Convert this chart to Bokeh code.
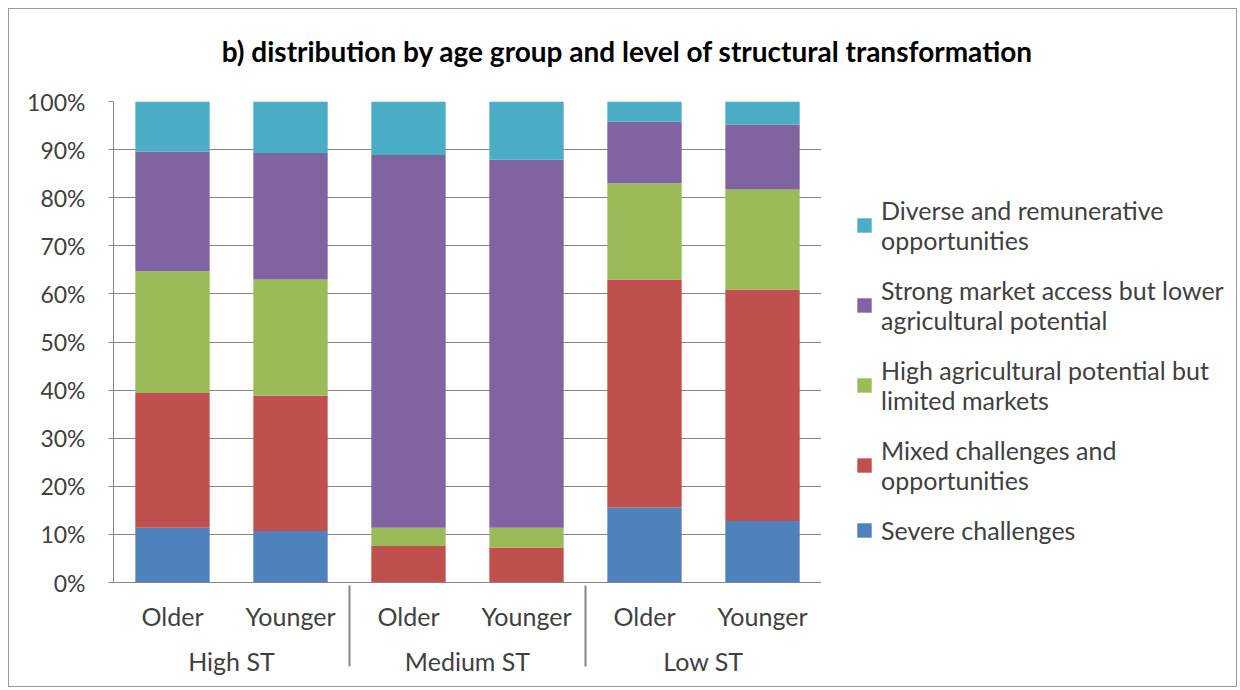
from bokeh.plotting import figure
from bokeh.layouts import column, row
from bokeh.models import (FactorRange, Range1d, Legend, LegendItem, FixedTicker,
                          PrintfTickFormatter, ColumnDataSource, Label)
from bokeh.embed import file_html
from bokeh.resources import INLINE

title_text = "b) distribution by age group and level of structural transformation"
groups = ["High ST", "Medium ST", "Low ST"]
ages = ["Older", "Younger"]

series_names = [
    "Severe challenges",
    "Mixed challenges and\nopportunities",
    "High agricultural potential but\nlimited markets",
    "Strong market access but lower\nagricultural potential",
    "Diverse and remunerative\nopportunities",
]
severe = [11.4, 10.7, 0.0, 0.0, 15.6, 12.8]
mixed = [28.0, 28.1, 7.6, 7.3, 47.4, 48.1]
high_agri = [25.3, 24.2, 3.8, 4.1, 20.0, 20.8]
strong_market = [24.9, 26.3, 77.5, 76.5, 12.8, 13.5]
diverse = [10.4, 10.7, 11.1, 12.1, 4.2, 4.8]
colors = ["#4F81BD", "#C0504D", "#9BBB59", "#8064A2", "#4BACC6"]
y_ticks = [0, 10, 20, 30, 40, 50, 60, 70, 80, 90, 100]

FONT = "Lato"
TXT = "#404040"
GRID = "#868686"

factors = [(g, a) for g in groups for a in ages]
keys = ["severe", "mixed", "high_agri", "strong_market", "diverse"]
source = ColumnDataSource(data=dict(x=factors, severe=severe, mixed=mixed,
                                    high_agri=high_agri, strong_market=strong_market,
                                    diverse=diverse))

# ---- title strip
TW, TH = 1227, 72
pt = figure(width=TW, height=TH, output_backend="svg", toolbar_location=None,
            x_range=Range1d(0, TW), y_range=Range1d(0, TH), min_border=0)
pt.axis.visible = False
pt.grid.visible = False
pt.outline_line_color = None
pt.add_layout(Label(x=618, y=31, text=title_text, text_font=FONT, text_font_style="bold",
                    text_font_size="28px", text_color="#000000",
                    text_align="center", text_baseline="middle"))

# ---- main chart
MH = 605
p = figure(width=812, height=MH, output_backend="svg", toolbar_location=None,
           x_range=FactorRange(*factors, group_padding=0, factor_padding=0, range_padding=0),
           y_range=Range1d(0, 100),
           min_border_left=104, min_border_right=0, min_border_top=20, min_border_bottom=104)
p.outline_line_color = None

renderers = p.vbar_stack(keys, x="x", width=0.63, color=colors, source=source, line_color=None)

p.yaxis.ticker = FixedTicker(ticks=y_ticks)
p.yaxis.formatter = PrintfTickFormatter(format="%d%%")
p.yaxis.axis_line_color = GRID
p.yaxis.major_tick_line_color = GRID
p.yaxis.major_tick_out = 5
p.yaxis.major_tick_in = 0
p.yaxis.minor_tick_line_color = None
p.yaxis.major_label_text_font = FONT
p.yaxis.major_label_text_font_size = "23px"
p.yaxis.major_label_text_color = TXT
p.yaxis.major_label_standoff = 23

p.ygrid.grid_line_color = GRID
p.xgrid.grid_line_color = None

p.xaxis.axis_line_color = GRID
p.xaxis.major_tick_line_color = None
p.xaxis.major_label_text_font = FONT
p.xaxis.major_label_text_font_size = "25px"
p.xaxis.major_label_text_color = TXT
p.xaxis.major_label_standoff = 12
p.xaxis.group_text_font = FONT
p.xaxis.group_text_font_size = "25px"
p.xaxis.group_text_color = TXT
p.xaxis.group_text_font_style = "normal"
p.xaxis.separator_line_color = GRID

# ---- legend strip
LW = 415
pl = figure(width=LW, height=MH, output_backend="svg", toolbar_location=None,
            x_range=Range1d(0, 1), y_range=Range1d(0, 1), min_border=0)
pl.axis.visible = False
pl.grid.visible = False
pl.outline_line_color = None
dummy = [pl.vbar(x=[5], top=[0.5], width=0.5, color=c, line_color=None) for c in colors]
items = [LegendItem(label=series_names[i], renderers=[dummy[i]]) for i in range(4, -1, -1)]
legend = Legend(items=items, location=(34, 37), padding=0, margin=0,
                border_line_color=None, background_fill_alpha=0,
                label_text_font=FONT, label_text_font_size="25px", label_text_color=TXT,
                glyph_width=18, glyph_height=18, spacing=20, label_standoff=8)
pl.add_layout(legend)

layout = column(pt, row(p, pl, spacing=0), spacing=0)
layout.styles = {"border": "1px solid #9a9a9a", "margin-left": "8px", "margin-top": "8px"}

open("out.html", "w").write(file_html(layout, INLINE))
